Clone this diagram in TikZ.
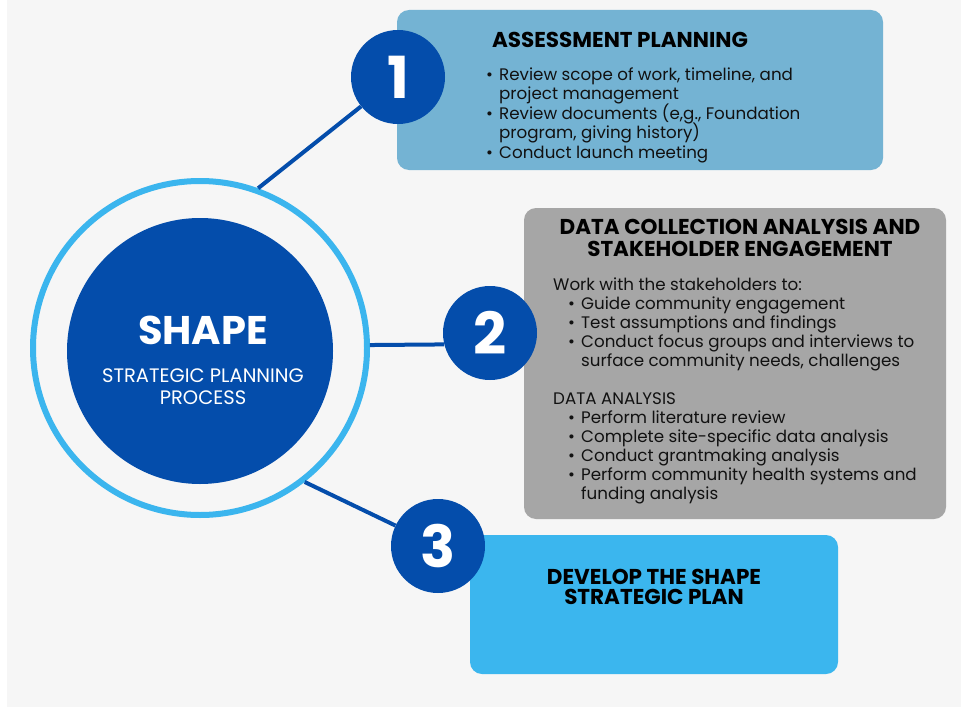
\documentclass[tikz,border=0pt]{standalone}
\usepackage{fontspec}
\setmainfont{Poppins}
\definecolor{bg}{HTML}{F6F6F6}
\definecolor{dblue}{HTML}{044DAB}
\definecolor{ringblue}{HTML}{3BB5EE}
\definecolor{boxone}{HTML}{74B3D3}
\definecolor{boxtwo}{HTML}{A6A6A6}
\definecolor{boxthree}{HTML}{3BB6EE}
\definecolor{txt}{HTML}{111111}
\newcommand\bul{\makebox[13pt][l]{\textbullet}}
\newcommand\ind{\hspace*{13pt}}
\newcommand\tightlines{\setlength\lineskiplimit{-20pt}\setlength\lineskip{0pt}}
\tikzset{
  stepbox/.style={rectangle, rounded corners=12pt, draw=none, inner sep=0pt},
  numc/.style={circle, fill=dblue, minimum size=94pt, inner sep=0pt, text=white,
    font=\fontsize{58}{58}\selectfont\bfseries},
  link/.style={draw=dblue, line width=4pt},
  title/.style={font=\fontsize{21.5}{22}\selectfont\bfseries\tightlines, text=black, align=center, inner sep=0pt},
  body/.style={font=\fontsize{16.7}{19.5}\selectfont\tightlines, text=txt, align=left, inner sep=0pt},
}
\begin{document}
\begin{tikzpicture}[x=1pt,y=-1pt]
\useasboundingbox (0,0) rectangle (961,709);
\fill[white] (0,0) rectangle (961,709);
\fill[bg] (7,0) rectangle (961,707);
% boxes
\node[stepbox, fill=boxone, minimum width=486pt, minimum height=160pt] (b1) at (640,90) {};
\node[stepbox, fill=boxtwo, minimum width=422pt, minimum height=311pt] (b2) at (735,363.5) {};
\node[stepbox, fill=boxthree, minimum width=368pt, minimum height=139pt] (b3) at (654,604.5) {};
% central circle
\node[circle, draw=ringblue, line width=6pt, minimum size=334pt, inner sep=0pt] (ring) at (200,348) {};
\node[circle, fill=dblue, minimum size=266pt, inner sep=0pt] (core) at (200,351) {};
\node[text=white, font=\fontsize{40}{40}\selectfont\bfseries, inner sep=0pt] (shape) at (203,330) {SHAPE};
\node[text=white, font=\fontsize{19.5}{22}\selectfont, align=center, inner sep=0pt] (spp) at (203,387) {STRATEGIC PLANNING\\PROCESS};
% number circles
\node[numc] (c1) at (398,77) {1};
\node[numc] (c2) at (490,333) {2};
\node[numc] (c3) at (438,546) {3};
% links
\draw[link] (ring.70) -- (c1);
\draw[link] (ring.1) -- (c2.194);
\draw[link] (ring.-52) -- (c3);
% box 1 text
\node[title] (t1) at (620,40) {ASSESSMENT PLANNING};
\node[body, anchor=north west] (l1) at (486,67.5) {\bul Review scope of work, timeline, and\\
\ind project management\\
\bul Review documents (e,g., Foundation\\
\ind program, giving history)\\
\bul Conduct launch meeting};
% box 2 text
\node[title] (t2) at (740,238) {DATA COLLECTION ANALYSIS AND\\STAKEHOLDER ENGAGEMENT};
\node[body, font=\fontsize{16.7}{19}\selectfont\tightlines, anchor=north west] (l2) at (553,278) {Work with the stakeholders to:\\
\hspace*{15pt}\bul Guide community engagement\\
\hspace*{15pt}\bul Test assumptions and findings\\
\hspace*{15pt}\bul Conduct focus groups and interviews to\\
\hspace*{15pt}\ind surface community needs, challenges\\[19pt]
DATA ANALYSIS\\
\hspace*{15pt}\bul Perform literature review\\
\hspace*{15pt}\bul Complete site-specific data analysis\\
\hspace*{15pt}\bul Conduct grantmaking analysis\\
\hspace*{15pt}\bul Perform community health systems and\\
\hspace*{15pt}\ind funding analysis};
% box 3 text
\node[title, font=\fontsize{21.5}{20.5}\selectfont\bfseries\tightlines] (t3) at (654,587) {DEVELOP THE SHAPE\\STRATEGIC PLAN};
\end{tikzpicture}
\end{document}
